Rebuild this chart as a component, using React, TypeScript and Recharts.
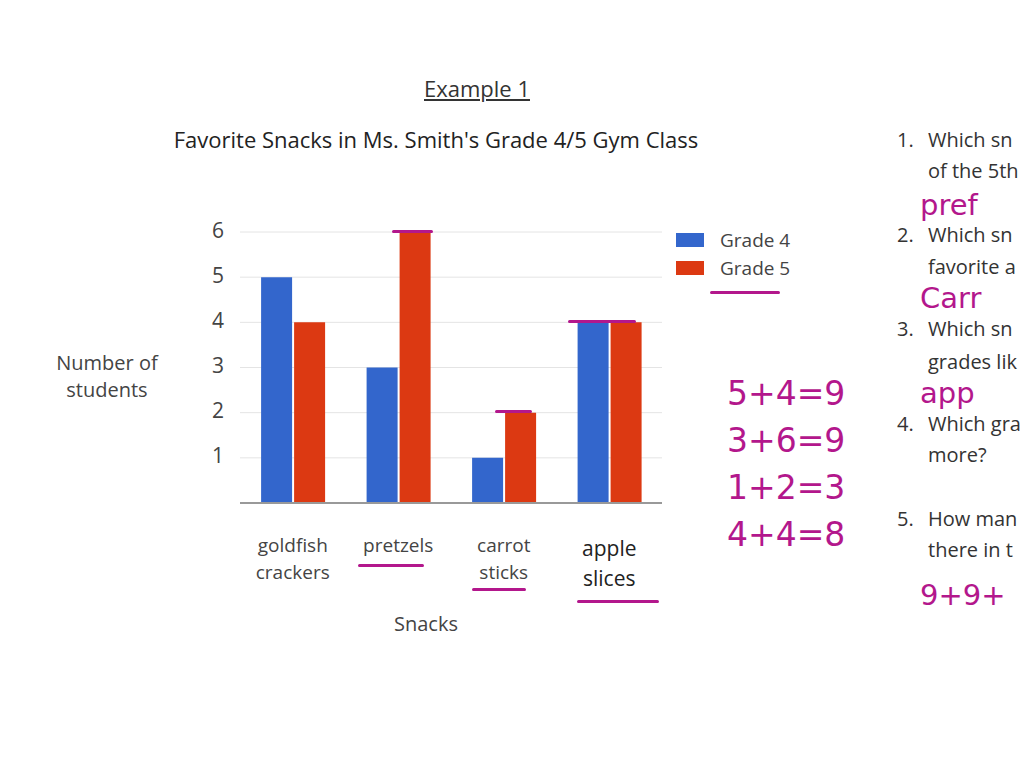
import React from 'react';
import { BarChart, Bar, XAxis, YAxis, CartesianGrid, Legend } from 'recharts';

const snacks = ['goldfish crackers', 'pretzels', 'carrot sticks', 'apple slices'];
const grade4 = [5, 3, 1, 4];
const grade5 = [4, 6, 2, 4];
const yTicks = [1, 2, 3, 4, 5, 6];
const seriesNames = ['Grade 4', 'Grade 5'];
const seriesColors = ['#3366cc', '#dc3912'];
const notes = ['5+4=9', '3+6=9', '1+2=3', '4+4=8'];

const data = snacks.map((s, i) => ({ snack: s, g4: grade4[i], g5: grade5[i] }));

const FONT = '"Open Sans", sans-serif';
const HAND = '"DejaVu Sans", sans-serif';
const INK = '#b3178c';

const XTick = (props: any) => {
  const { x, y, payload, index } = props;
  const words = String(payload.value).split(' ');
  const big = index === 3;
  return (
    <g>
      {words.map((w: string, i: number) => (
        <text
          key={i}
          x={x}
          y={y + (big ? 39 : 36) + i * (big ? 30 : 27)}
          textAnchor="middle"
          dominantBaseline="middle"
          fontFamily={FONT}
          fontSize={big ? 21 : 19}
          fill={big ? '#222' : '#444'}
        >
          {w}
        </text>
      ))}
    </g>
  );
};

const YTick = (props: any) => {
  const { y, payload } = props;
  return (
    <text x={218} y={y} textAnchor="middle" dominantBaseline="middle" fontFamily={FONT} fontSize={21} fill="#444">
      {payload.value}
    </text>
  );
};

const LegendContent = () => (
  <div style={{ fontFamily: FONT }}>
    {seriesNames.map((n, i) => (
      <div key={n} style={{ display: 'flex', alignItems: 'center', height: 28 }}>
        <div style={{ width: 28, height: 14, background: seriesColors[i], marginRight: 16 }} />
        <span style={{ fontSize: 19, color: '#444' }}>{n}</span>
      </div>
    ))}
  </div>
);

const abs = (l: number, t: number, extra: React.CSSProperties = {}): React.CSSProperties => ({
  position: 'absolute',
  left: l,
  top: t,
  whiteSpace: 'nowrap',
  ...extra,
});

const stroke = (l: number, t: number, w: number): React.CSSProperties => ({
  position: 'absolute',
  left: l,
  top: t,
  width: w,
  height: 0,
  borderTop: `3px solid ${INK}`,
  borderRadius: 3,
});

const questions: { y: number; text: string; num?: string; hand?: boolean }[] = [
  { y: 126, num: '1.', text: 'Which sn' },
  { y: 157, text: 'of the 5th' },
  { y: 190, text: 'pref', hand: true },
  { y: 221, num: '2.', text: 'Which sn' },
  { y: 253, text: 'favorite a' },
  { y: 283, text: 'Carr', hand: true },
  { y: 315, num: '3.', text: 'Which sn' },
  { y: 348, text: 'grades lik' },
  { y: 378, text: 'app', hand: true },
  { y: 410, num: '4.', text: 'Which gra' },
  { y: 441, text: 'more?' },
  { y: 505, num: '5.', text: 'How man' },
  { y: 536, text: 'there in t' },
  { y: 580, text: '9+9+', hand: true },
];

export default function App() {
  return (
    <div
      style={{
        position: 'absolute',
        left: 0,
        top: 0,
        width: 1024,
        height: 768,
        overflow: 'hidden',
        background: '#fff',
        fontFamily: FONT,
      }}
    >
      <div style={abs(0, 73, { width: 954, textAlign: 'center', fontSize: 22, color: '#333', textDecoration: 'underline' })}>
        Example 1
      </div>
      <div style={abs(0, 124, { width: 872, textAlign: 'center', fontSize: 22, color: '#222' })}>
        Favorite Snacks in Ms. Smith's Grade 4/5 Gym Class
      </div>
      <div style={abs(0, 349, { width: 214, textAlign: 'center', fontSize: 20, color: '#444', lineHeight: '27px', whiteSpace: 'normal' })}>
        Number of
        <br />
        students
      </div>
      <div style={abs(0, 610, { width: 852, textAlign: 'center', fontSize: 20, color: '#444' })}>Snacks</div>

      <div style={{ position: 'absolute', left: 0, top: 0 }}>
        <BarChart
          width={1024}
          height={768}
          data={data}
          margin={{ top: 232, right: 362, bottom: 205, left: 200 }}
          barCategoryGap="20%"
          barGap={2}
        >
          <CartesianGrid horizontal vertical={false} stroke="#e4e4e4" />
          <XAxis dataKey="snack" height={60} axisLine={{ stroke: '#999', strokeWidth: 2 }} tickLine={false} tick={<XTick />} interval={0} />
          <YAxis width={40} domain={[0, 6]} ticks={yTicks} axisLine={false} tickLine={false} tick={<YTick />} />
          <Legend
            layout="vertical"
            verticalAlign="middle"
            align="center"
            content={<LegendContent />}
            wrapperStyle={{ position: 'absolute', left: 676, top: 226, width: 140 }}
          />
          <Bar dataKey="g4" name={seriesNames[0]} fill={seriesColors[0]} isAnimationActive={false} />
          <Bar dataKey="g5" name={seriesNames[1]} fill={seriesColors[1]} isAnimationActive={false} />
        </BarChart>
      </div>

      {/* handwritten annotations */}
      <div style={stroke(392, 230, 41)} />
      <div style={stroke(495, 410, 37)} />
      <div style={stroke(568, 320, 68)} />
      <div style={stroke(710, 291, 70)} />
      <div style={stroke(358, 564, 66)} />
      <div style={stroke(472, 588, 54)} />
      <div style={stroke(577, 600, 82)} />

      {notes.map((n, i) => (
        <div key={n} style={abs(727, 374 + i * 47, { fontSize: 33, color: INK, fontFamily: HAND })}>
          {n}
        </div>
      ))}

      {questions.map((q, i) => (
        <div
          key={i}
          style={abs(q.hand ? 920 : 928, q.y, {
            fontSize: q.hand ? 29 : 20,
            lineHeight: q.hand ? '30px' : '28px',
            color: q.hand ? INK : '#333',
            fontFamily: q.hand ? HAND : FONT,
          })}
        >
          {q.num && <span style={{ position: 'absolute', left: -31 }}>{q.num}</span>}
          {q.text}
        </div>
      ))}
    </div>
  );
}
